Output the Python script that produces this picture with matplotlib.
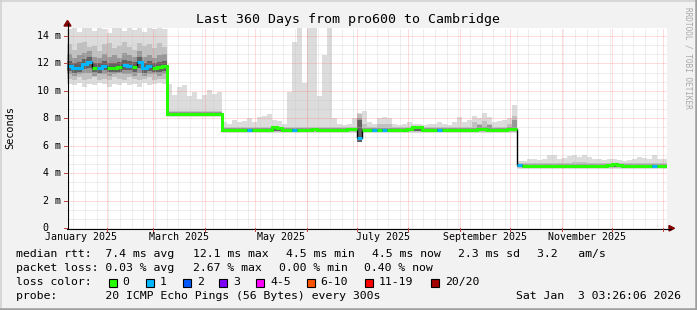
import numpy as np
import matplotlib
matplotlib.use("Agg")
import matplotlib.pyplot as plt
import matplotlib.dates as mdates
from matplotlib.patches import Rectangle, Polygon
from matplotlib.lines import Line2D
from datetime import datetime, timedelta

# ---------------- data ----------------
start = datetime(2025, 1, 8, 3, 26, 6)
end = datetime(2026, 1, 3, 3, 26, 6)
bin_days = 3

median_ms = [
    11.85, 11.65, 11.7, 11.95, 12.1, 11.7, 11.65, 11.85, 11.7, 11.7,
    11.75, 11.9, 11.85, 11.75, 12.1, 11.65, 11.8, 11.7, 11.75, 11.8,
    8.32, 8.3, 8.3, 8.3, 8.32, 8.3, 8.3, 8.3, 8.32, 8.3, 8.3,
    7.15, 7.15, 7.15, 7.15, 7.15, 7.15, 7.15, 7.15, 7.15, 7.15,
    7.35, 7.3, 7.15, 7.15, 7.15, 7.15, 7.15, 7.18, 7.2, 7.18,
    7.15, 7.15, 7.15, 7.15, 7.15, 7.2, 7.25, 6.6, 7.15, 7.15,
    7.15, 7.15, 7.15, 7.15, 7.15, 7.15, 7.18, 7.25, 7.35, 7.35,
    7.15, 7.15, 7.15, 7.15, 7.15, 7.12, 7.12, 7.15, 7.12, 7.15,
    7.15, 7.2, 7.2, 7.15, 7.15, 7.15, 7.15, 7.2, 7.2,
    4.6, 4.55, 4.55, 4.55, 4.55, 4.55, 4.55, 4.55, 4.55, 4.55,
    4.52, 4.52, 4.52, 4.52, 4.52, 4.52, 4.52, 4.55, 4.6, 4.7,
    4.62, 4.55, 4.55, 4.55, 4.55, 4.55, 4.55, 4.55, 4.55, 4.55,
]

loss_count = (
    [1, 1, 1, 1, 1, 0, 1, 1, 0, 0, 0, 1, 1, 0, 1, 1, 1, 0, 0, 0]
    + [0] * 11
    + [0, 0, 0, 0, 0, 1, 0, 0, 0, 0, 0, 0, 0, 0, 1, 0, 0, 0, 0, 0,
       0, 0, 0, 0, 0, 0, 0, 1, 0, 0, 1, 0, 1, 0, 0, 0, 0, 0, 0, 0,
       0, 0, 0, 1, 0, 0, 0, 0, 0, 0, 0, 0, 0, 0, 0, 0, 0, 0, 0]
    + [1] + [0] * 26 + [1, 0, 0]
)

smoke1_hi = (
    [14.5, 14.6, 14.3, 14.6, 14.6, 14.4, 14.6, 14.5, 14.25, 14.6,
     14.6, 14.4, 14.6, 14.45, 14.6, 14.3, 14.6, 14.5, 14.6, 14.5]
    + [10.5, 9.7, 10.3, 10.4, 9.6, 9.9, 9.4, 9.7, 10.1, 9.8, 9.9]
    + [7.7, 7.6, 7.9, 7.7, 7.8, 8.0, 7.7, 8.1, 8.2, 8.3,
       7.9, 7.8, 7.6, 9.9, 13.6, 14.6, 10.6, 14.6, 14.6, 9.6,
       12.6, 14.6, 8.0, 7.6, 7.5, 7.6, 8.0, 8.4, 8.5, 7.7,
       7.6, 8.0, 8.1, 8.0, 7.6, 7.5, 7.6, 7.7, 7.6, 7.6,
       7.5, 7.6, 7.6, 7.7, 7.6, 7.5, 7.7, 8.1, 7.7, 7.9,
       8.2, 8.0, 8.4, 8.1, 7.7, 7.8, 7.9, 8.0, 9.0]
    + [4.9, 4.9, 5.0, 5.0, 4.95, 5.0, 5.3, 5.3, 5.0, 5.1,
       5.25, 5.3, 5.2, 5.3, 5.2, 5.0, 5.0, 4.95, 5.0, 5.05,
       4.95, 4.9, 4.95, 5.0, 5.15, 5.1, 5.0, 5.3, 5.05, 5.0]
)
smoke1_lo = (
    [10.5, 10.4, 10.6, 10.3, 10.5, 10.4, 10.6, 10.5, 10.3, 10.5,
     10.4, 10.6, 10.4, 10.5, 10.3, 10.6, 10.4, 10.5, 10.6, 10.5]
    + [8.1] * 11
    + [6.95] * 27 + [6.3] + [6.95] * 31
    + [4.3] * 30
)
smoke2_hi = (
    [13.4, 13.0, 13.5, 13.6, 13.2, 13.3, 12.9, 13.4, 13.5, 13.1,
     13.3, 13.6, 13.2, 13.0, 13.5, 13.3, 13.4, 13.1, 13.5, 13.2]
    + [8.55] * 11
    + [7.4] * 27 + [8.3, 7.6, 7.4, 7.4, 7.6, 7.6, 7.6] + [7.4] * 16
    + [7.7, 7.6, 7.8, 7.6, 7.4, 7.4, 7.4, 7.6, 8.2]
    + [4.75] * 11 + [4.85, 4.85, 4.85] + [4.75] * 16
)
smoke2_lo = (
    [10.9, 10.8, 11.0, 10.8, 10.9, 11.0, 10.8, 10.9, 10.8, 11.0,
     10.9, 10.8, 11.0, 10.9, 10.8, 10.9, 11.0, 10.8, 10.9, 10.9]
    + [8.15] * 11
    + [7.0] * 27 + [6.4] + [7.0] * 31
    + [4.38] * 30
)
smoke3_hi = (
    [12.7, 12.4, 12.6, 12.8, 12.9, 12.5, 12.4, 12.7, 12.5, 12.6,
     12.4, 12.8, 12.6, 12.5, 12.9, 12.5, 12.6, 12.4, 12.6, 12.7]
    + [8.45] * 11
    + [7.3] * 27 + [8.0] + [7.3] * 23 + [7.5, 7.4, 7.5, 7.3, 7.3, 7.3, 7.4, 7.9]
    + [4.68] * 30
)
smoke3_lo = (
    [11.2, 11.1, 11.2, 11.3, 11.3, 11.1, 11.2, 11.2, 11.1, 11.2,
     11.3, 11.2, 11.2, 11.1, 11.3, 11.1, 11.2, 11.2, 11.1, 11.2]
    + [8.2] * 11
    + [7.05] * 27 + [6.5] + [7.05] * 31
    + [4.45] * 30
)
smoke4_hi = (
    [12.2, 12.0, 12.1, 12.3, 12.45, 12.05, 12.0, 12.2, 12.05, 12.05,
     12.1, 12.25, 12.2, 12.1, 12.45, 12.0, 12.15, 12.05, 12.1, 12.15]
    + [8.38] * 11
    + [7.22] * 27 + [7.9] + [7.22] * 31
    + [4.62] * 30
)
smoke4_lo = (
    [11.45, 11.3, 11.35, 11.6, 11.7, 11.35, 11.3, 11.5, 11.35, 11.35,
     11.4, 11.55, 11.5, 11.4, 11.7, 11.3, 11.45, 11.35, 11.4, 11.45]
    + [8.22] * 11
    + [7.08] * 27 + [6.3] + [7.08] * 31
    + [4.48] * 30
)

loss_labels = ["0", "1", "2", "3", "4-5", "6-10", "11-19", "20/20"]
loss_colors = ["#26ff00", "#00b8ff", "#0059ff", "#7e00ff", "#ff00ff",
               "#ff5500", "#ff0000", "#a00000"]

y_ticks = [0, 2, 4, 6, 8, 10, 12, 14]
y_tick_labels = ["0  ", "2 m", "4 m", "6 m", "8 m", "10 m", "12 m", "14 m"]
x_label_months = [(2025, 1), (2025, 3), (2025, 5), (2025, 7), (2025, 9), (2025, 11)]

title = "Last 360 Days from pro600 to Cambridge"
legend_rows = [
    ["median rtt:  7.4 ms avg", "12.1 ms max", "4.5 ms min", "4.5 ms now",
     "2.3 ms sd", "3.2   am/s"],
    ["packet loss: 0.03 % avg", "2.67 % max", "0.00 % min", "0.40 % now"],
]
probe_text = "probe:       20 ICMP Echo Pings (56 Bytes) every 300s"
date_text = "Sat Jan  3 03:26:06 2026"

# ---------------- layout helpers ----------------
W, H = 697, 310
L, R, T, B = 67, 667, 28, 228
YMAX = 200 / 13.71
MONO = "DejaVu Sans Mono"


def fx(x):
    return x / W


def fy(y):
    return 1 - y / H


fig = plt.figure(figsize=(W / 100, H / 100), dpi=100)
fig.patch.set_facecolor("#f2f2f2")
ax = fig.add_axes([fx(L), fy(B), (R - L) / W, (B - T) / H])
ax.set_facecolor("white")
for s in ax.spines.values():
    s.set_visible(False)
ax.set_xticks([])
ax.set_yticks([])

t0 = mdates.date2num(start)
t1 = mdates.date2num(end)
ax.set_xlim(t0, t1)
ax.set_ylim(0, YMAX)


def xpix(t):
    return L + (mdates.date2num(t) - t0) / (t1 - t0) * (R - L)


def ypix(v):
    return B - v / YMAX * (B - T)


n = len(median_ms)
edges = mdates.date2num([start + timedelta(days=bin_days * k) for k in range(n + 1)])

# smoke
layers = [
    (smoke1_lo, smoke1_hi, "#dcdcdc"),
    (smoke2_lo, smoke2_hi, "#c0c0c0"),
    (smoke3_lo, smoke3_hi, "#989898"),
    (smoke4_lo, smoke4_hi, "#626262"),
]
for lo, hi, col in layers:
    ax.stairs(np.array(hi), edges, baseline=np.array(lo), fill=True,
              color=col, linewidth=0, zorder=2)

# grid (drawn over the smoke, like rrdtool)
dot = (0, (1, 1))
MINOR = dict(color="#c4c4c4", lw=0.72, ls=dot, alpha=0.55, zorder=4)
MAJOR = dict(color="#ff7070", lw=0.72, ls=dot, alpha=0.5, zorder=4.5)
d = start.date() + timedelta(days=1)
while d <= end.date():
    if d.weekday() == 6:
        ax.axvline(mdates.date2num(datetime(d.year, d.month, d.day)), **MINOR)
    d += timedelta(days=1)
v = 2 / 3
while v < YMAX:
    if abs(v / 2 - round(v / 2)) > 1e-6:
        ax.axhline(v, **MINOR)
    v += 2 / 3
month_starts = []
yy, mm = 2025, 2
while datetime(yy, mm, 1) < end:
    month_starts.append(datetime(yy, mm, 1))
    mm += 1
    if mm > 12:
        mm = 1
        yy += 1
for ms in month_starts:
    ax.axvline(mdates.date2num(ms), **MAJOR)
for v in y_ticks[1:]:
    ax.axhline(v, **MAJOR)

# median: black base line then loss-coloured segments
med = np.array(median_ms)
ax.stairs(med, edges, baseline=None, color="#000000", linewidth=1.0, zorder=6)
k = 0
while k < n:
    j = k
    while j + 1 < n and loss_count[j + 1] == loss_count[k]:
        j += 1
    ax.stairs(med[k:j + 1], edges[k:j + 2], baseline=None,
              color=loss_colors[loss_count[k]], linewidth=2.2, zorder=7)
    k = j + 1

# axes lines + arrows
fig.add_artist(Line2D([fx(L), fx(671)], [fy(B + 0.5), fy(B + 0.5)], color="black", lw=0.8))
fig.add_artist(Line2D([fx(L + 0.5), fx(L + 0.5)], [fy(B), fy(24)], color="black", lw=0.8))
fig.add_artist(Polygon([(fx(669), fy(225.5)), (fx(669), fy(231)), (fx(674.5), fy(228.3))],
                       closed=True, color="#7f0000"))
fig.add_artist(Polygon([(fx(64), fy(26)), (fx(71), fy(26)), (fx(67.5), fy(20.5))],
                       closed=True, color="#7f0000"))
# tick marks
for ms in month_starts:
    xp = xpix(ms)
    fig.add_artist(Line2D([fx(xp), fx(xp)], [fy(B), fy(B + 3)], color="#c04040", lw=0.7))
for v in y_ticks:
    yp = ypix(v)
    fig.add_artist(Line2D([fx(L - 3), fx(L)], [fy(yp), fy(yp)], color="#c04040", lw=0.7))

# tick labels
for v, lab in zip(y_ticks, y_tick_labels):
    fig.text(fx(61), fy(ypix(v)), lab, family=MONO, fontsize=7.2,
             ha="right", va="center")
for (yy, mm) in x_label_months:
    a = datetime(yy, mm, 1)
    b = datetime(yy + (mm // 12), mm % 12 + 1, 1)
    mid = a + (b - a) / 2
    fig.text(fx(xpix(mid)), fy(237.5), a.strftime("%B %Y"), family=MONO,
             fontsize=7.2, ha="center", va="center")

# title, axis label, watermark
fig.text(fx(348), fy(19), title, family=MONO, fontsize=9.5, ha="center", va="center")
fig.text(fx(10), fy(128), "Seconds", family=MONO, fontsize=7.4, rotation=90,
         ha="center", va="center")
fig.text(fx(688), fy(58), "RRDTOOL / TOBI OETIKER", family=MONO, fontsize=5.6,
         rotation=-90, ha="center", va="center", color="#a8a8a8")

# legend
row_y = [254, 268, 282, 296]
row_x = [[16, 193, 286, 372, 458, 537], [16, 193, 279, 364]]
for r, (chunks, xs) in enumerate(zip(legend_rows, row_x)):
    for txt, x in zip(chunks, xs):
        fig.text(fx(x), fy(row_y[r]), txt, family=MONO, fontsize=8.25,
                 ha="left", va="center")
fig.text(fx(16), fy(row_y[2]), "loss color:", family=MONO, fontsize=8.25,
         ha="left", va="center")
box_x = [108.7, 145.7, 182.7, 219.3, 256.3, 306.7, 365.0, 430.7]
for bx, lab, col in zip(box_x, loss_labels, loss_colors):
    fig.add_artist(Rectangle((fx(bx), fy(286.5)), 8 / W, 8 / H, facecolor=col,
                             edgecolor="black", linewidth=0.8))
    fig.text(fx(bx + 14), fy(row_y[2]), lab, family=MONO, fontsize=8.25,
             ha="left", va="center")
fig.text(fx(16), fy(row_y[3]), probe_text, family=MONO, fontsize=8.25,
         ha="left", va="center")
fig.text(fx(680.5), fy(row_y[3]), date_text, family=MONO, fontsize=8.25,
         ha="right", va="center")

# 3D frame
fig.add_artist(Line2D([0, 1], [fy(0.75), fy(0.75)], color="#cfcfcf", lw=1.1))
fig.add_artist(Line2D([fx(0.75), fx(0.75)], [0, 1], color="#cfcfcf", lw=1.1))
fig.add_artist(Line2D([0, 1], [fy(H - 1.25), fy(H - 1.25)], color="#9e9e9e", lw=1.8))
fig.add_artist(Line2D([fx(W - 1.25), fx(W - 1.25)], [0, 1], color="#9e9e9e", lw=1.8))

fig.savefig("out.png", dpi=100, facecolor=fig.get_facecolor())
